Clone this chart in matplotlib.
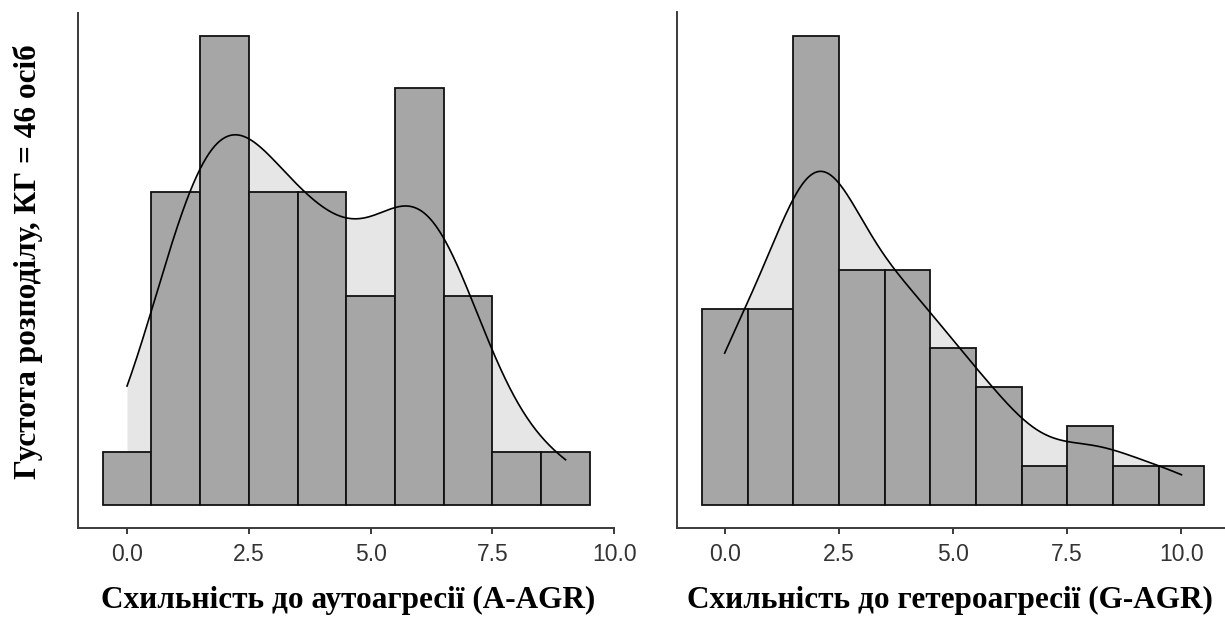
"""Histograms with KDE overlay: auto- and hetero-aggression scores (n = 46)."""

import matplotlib

matplotlib.use("Agg")
import matplotlib.pyplot as plt
import numpy as np

# score values and how many persons got each score
AUTO_SCORES = [0, 1, 2, 3, 4, 5, 6, 7, 8, 9]
AUTO_COUNTS = [1, 6, 9, 6, 6, 4, 8, 4, 1, 1]
HETERO_SCORES = [0, 1, 2, 3, 4, 5, 6, 7, 8, 9, 10]
HETERO_COUNTS = [5, 5, 12, 6, 6, 4, 3, 1, 2, 1, 1]

TICKS = [0.0, 2.5, 5.0, 7.5, 10.0]
TICK_LABELS = ["0.0", "2.5", "5.0", "7.5", "10.0"]
Y_LABEL = "Густота розподілу, КГ = 46 осіб"
X_LABELS = ["Схильність до аутоагресії (A-AGR)", "Схильність до гетероагресії (G-AGR)"]

BAR_COLOR = "#a6a6a6"
KDE_FILL = "#e6e6e6"
AXIS_COLOR = "#3a3a3a"


def bw_nrd0(x):
    sd = x.std(ddof=1)
    q75, q25 = np.percentile(x, [75, 25])
    lo = min(sd, (q75 - q25) / 1.34)
    return 0.9 * lo * len(x) ** -0.2


def kde(x, grid):
    bw = bw_nrd0(x)
    z = (grid[:, None] - x[None, :]) / bw
    return np.exp(-0.5 * z**2).sum(axis=1) / (len(x) * bw * np.sqrt(2 * np.pi))


def panel(ax, scores, counts):
    scores = np.asarray(scores, dtype=float)
    counts = np.asarray(counts, dtype=float)
    n = counts.sum()
    values = np.repeat(scores, counts.astype(int))
    grid = np.linspace(values.min(), values.max(), 400)
    dens = kde(values, grid)
    ax.fill_between(grid, dens, color=KDE_FILL, lw=0, zorder=1)
    ax.bar(scores, counts / n, width=1.0, color=BAR_COLOR, edgecolor="#111111", linewidth=1.3, zorder=2)
    ax.plot(grid, dens, color="black", lw=1.2, zorder=3)
    top = counts.max() / n
    ax.set_ylim(-0.05 * top, 1.05 * top)
    lo, hi = scores.min() - 0.5, scores.max() + 0.5
    pad = 0.05 * (hi - lo)
    ax.set_xlim(lo - pad, hi + pad)
    ax.set_xticks(TICKS, TICK_LABELS)
    ax.set_yticks([])
    for side in ("top", "right"):
        ax.spines[side].set_visible(False)
    for side in ("left", "bottom"):
        ax.spines[side].set_color(AXIS_COLOR)
        ax.spines[side].set_linewidth(1.4)
    ax.tick_params(axis="x", length=4, width=1.4, color=AXIS_COLOR, pad=7,
                   labelsize=16.5, labelcolor="#333333")
    for lab in ax.get_xticklabels():
        lab.set_family("Liberation Sans")


fig = plt.figure(figsize=(12.25, 6.21), dpi=100)
ax1 = fig.add_axes([78.3 / 1225, 93 / 621, 536 / 1225, 515.5 / 621])
ax2 = fig.add_axes([676.7 / 1225, 93 / 621, 552.7 / 1225, 515.5 / 621])
panel(ax1, AUTO_SCORES, AUTO_COUNTS)
panel(ax2, HETERO_SCORES, HETERO_COUNTS)

serif = dict(family="Liberation Serif", weight="bold", fontsize=22.5)
fig.text(28 / 1225, 1 - 262 / 621, Y_LABEL, rotation=90, ha="center", va="center", **serif)
fig.text(348 / 1225, 1 - 600 / 621, X_LABELS[0], ha="center", va="center", **serif)
fig.text(950 / 1225, 1 - 600 / 621, X_LABELS[1], ha="center", va="center", **serif)

fig.savefig("out.png", dpi=100)
